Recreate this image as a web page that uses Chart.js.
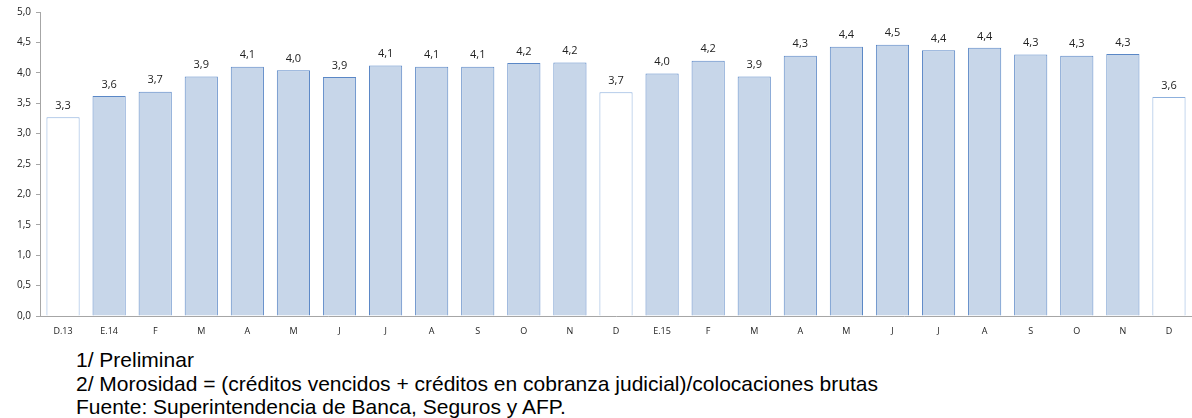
<!DOCTYPE html>
<html lang="es">
<head>
    <meta charset="UTF-8">
    <title>Morosidad</title>
    <script src="https://cdn.jsdelivr.net/npm/chart.js"></script>
    <style>
        body {
            margin: 0;
            background: #fff;
            width: 1192px;
            height: 418px;
            overflow: hidden;
        }
        #wrap {
            position: relative;
            width: 1192px;
            height: 345px;
        }
        .notes {
            font-family: "Liberation Sans", Arial, sans-serif;
            font-size: 21px;
            line-height: 23.5px;
            margin: 3px 0 0 76px;
            color: #000;
            white-space: nowrap;
        }
    </style>
</head>
<body>
    <div id="wrap">
        <canvas id="chart" width="1192" height="345"></canvas>
    </div>
    <div class="notes">
        1/ Preliminar<br>
        2/ Morosidad = (créditos vencidos + créditos en cobranza judicial)/colocaciones brutas<br>
        Fuente: Superintendencia de Banca, Seguros y AFP.
    </div>

    <script>
        const labels = ['D.13', 'E.14', 'F', 'M', 'A', 'M', 'J', 'J', 'A', 'S', 'O', 'N',
                        'D', 'E.15', 'F', 'M', 'A', 'M', 'J', 'J', 'A', 'S', 'O', 'N', 'D'];
        const morosidad = [3.27, 3.62, 3.69, 3.94, 4.10, 4.04, 3.93, 4.12, 4.10, 4.10, 4.16, 4.17,
                           3.68, 3.99, 4.20, 3.94, 4.28, 4.43, 4.46, 4.37, 4.41, 4.30, 4.28, 4.31, 3.60];
        // December bars are drawn hollow
        const hollow = [0, 12, 24];
        const yTicks = [0, 0.5, 1, 1.5, 2, 2.5, 3, 3.5, 4, 4.5, 5];

        const fmt = v => v.toFixed(1).replace('.', ',');

        const fills = labels.map((l, i) => hollow.includes(i) ? '#ffffff' : '#c7d6e9');
        const borders = labels.map((l, i) => hollow.includes(i) ? '#8db0dd' : '#5a87c6');

        // value labels above each bar
        const valueLabels = {
            id: 'valueLabels',
            afterDatasetsDraw(chart) {
                const ctx = chart.ctx;
                const meta = chart.getDatasetMeta(0);
                ctx.save();
                ctx.font = '11px "Open Sans", sans-serif';
                ctx.fillStyle = '#222';
                ctx.textAlign = 'center';
                ctx.textBaseline = 'bottom';
                meta.data.forEach((bar, i) => {
                    ctx.fillText(fmt(morosidad[i]), bar.x, bar.y - 6);
                });
                ctx.restore();
            }
        };

        new Chart(document.getElementById('chart'), {
            type: 'bar',
            data: {
                labels: labels,
                datasets: [{
                    data: morosidad,
                    backgroundColor: fills,
                    borderColor: borders,
                    borderWidth: 1,
                    categoryPercentage: 1.0,
                    barPercentage: 0.72
                }]
            },
            options: {
                responsive: false,
                animation: false,
                layout: { padding: { top: 12, right: 0, left: 0, bottom: 0 } },
                plugins: {
                    legend: { display: false },
                    tooltip: { enabled: false }
                },
                scales: {
                    x: {
                        grid: { display: false, drawTicks: false },
                        border: { color: '#a6a6a6', width: 1 },
                        ticks: {
                            font: { family: '"Open Sans", sans-serif', size: 9 },
                            color: '#222',
                            padding: 10,
                            maxRotation: 0,
                            autoSkip: false
                        },
                        afterFit(scale) { scale.height = 29; }
                    },
                    y: {
                        min: 0,
                        max: 5,
                        afterBuildTicks(scale) {
                            scale.ticks = yTicks.map(v => ({ value: v }));
                        },
                        grid: { drawOnChartArea: false, tickLength: 4, color: '#a6a6a6' },
                        border: { color: '#a6a6a6', width: 1 },
                        ticks: {
                            font: { family: '"Open Sans", sans-serif', size: 10 },
                            color: '#222',
                            padding: 5,
                            callback: v => fmt(v)
                        },
                        afterFit(scale) { scale.width = 40; }
                    }
                }
            },
            plugins: [valueLabels]
        });
    </script>
</body>
</html>
